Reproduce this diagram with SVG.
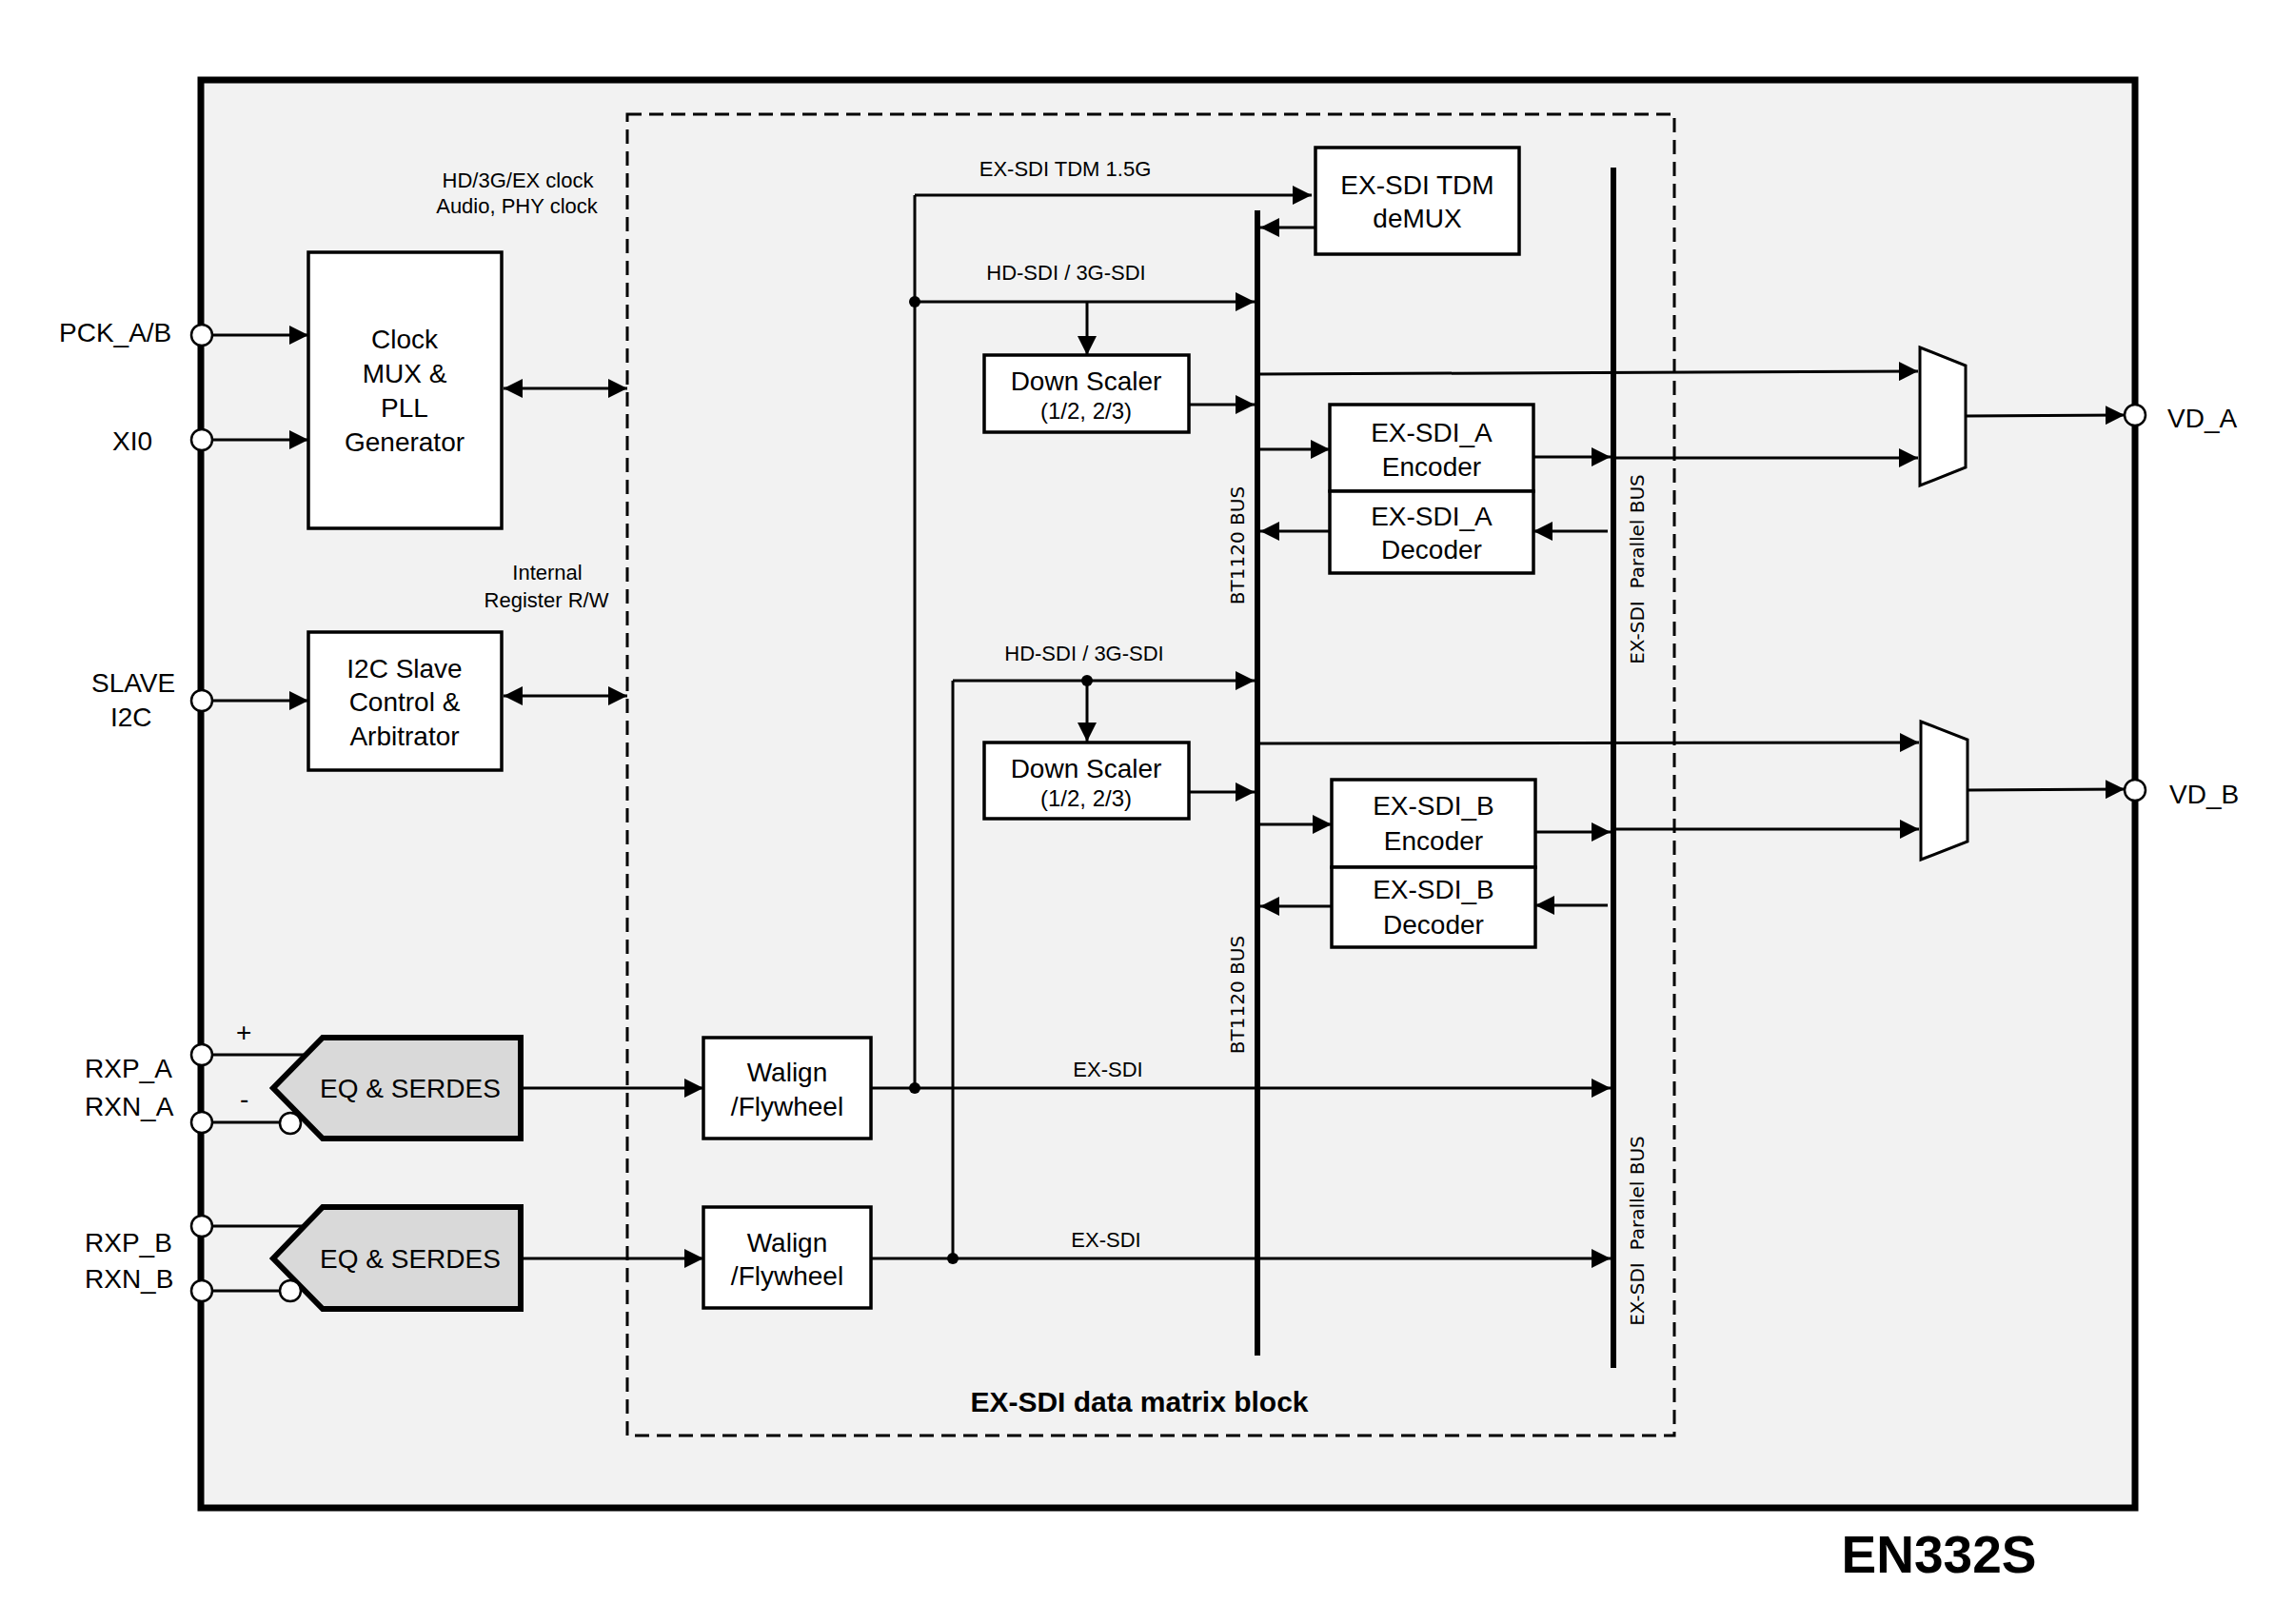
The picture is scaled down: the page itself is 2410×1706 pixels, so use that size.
<svg xmlns="http://www.w3.org/2000/svg" width="2410" height="1706" viewBox="0 0 2410 1706">
<style>
.t{font-family:"Liberation Sans",Arial,sans-serif;font-size:28px;fill:#000}
.c{text-anchor:middle}
.s{font-size:22px}
.m{font-size:24px}
.r{font-family:"DejaVu Sans",Verdana,sans-serif;font-size:20px;text-anchor:middle;fill:#000}
.b{font-weight:bold}
.box{fill:#fff;stroke:#000;stroke-width:3.5}
.ln{stroke:#000;stroke-width:3;fill:none}
.a{marker-end:url(#ah)}
.aa{marker-start:url(#ah);marker-end:url(#ah)}
.bus{stroke:#000;stroke-width:6;fill:none}
.pin{fill:#fff;stroke:#000;stroke-width:2.5}
.eq{fill:#d9d9d9;stroke:#000;stroke-width:6;stroke-linejoin:miter}
.mux{fill:#fff;stroke:#000;stroke-width:3}
</style>
<defs>
<marker id="ah" markerUnits="userSpaceOnUse" markerWidth="20" markerHeight="20" refX="20" refY="10" orient="auto-start-reverse" viewBox="0 0 20 20"><path d="M0,0L20,10L0,20z" fill="#000"/></marker>
</defs>

<rect id="chip" x="211" y="84" width="2032" height="1500" fill="#f2f2f2" stroke="#000" stroke-width="7"/>
<rect id="matrix-block" x="659" y="120" width="1100" height="1388" fill="none" stroke="#000" stroke-width="3" stroke-dasharray="15 8"/>
<text class="t b c" x="1197" y="1483" style="font-size:30px">EX-SDI data matrix block</text>
<text class="t b c" x="2037" y="1652" style="font-size:55px">EN332S</text>

<g id="connectors">
  <line class="ln a" x1="223" y1="352" x2="324" y2="352"/>
  <line class="ln a" x1="223" y1="462" x2="324" y2="462"/>
  <line class="ln a" x1="223" y1="736" x2="324" y2="736"/>
  <line class="ln aa" x1="529" y1="408" x2="659" y2="408"/>
  <line class="ln aa" x1="529" y1="731" x2="659" y2="731"/>
  <line class="ln" x1="222" y1="1108" x2="321" y2="1108"/>
  <line class="ln" x1="222" y1="1179" x2="294" y2="1179"/>
  <line class="ln" x1="222" y1="1288" x2="320" y2="1288"/>
  <line class="ln" x1="222" y1="1356" x2="294" y2="1356"/>
  <line class="ln a" x1="550" y1="1143" x2="739" y2="1143"/>
  <line class="ln a" x1="550" y1="1322" x2="739" y2="1322"/>
  <!-- trunk A -->
  <polyline class="ln" points="961,1143 961,205"/>
  <line class="ln a" x1="961" y1="205" x2="1378" y2="205"/>
  <line class="ln a" x1="961" y1="317" x2="1318" y2="317"/>
  <line class="ln a" x1="1142" y1="317" x2="1142" y2="373"/>
  <line class="ln a" x1="1249" y1="425" x2="1318" y2="425"/>
  <line class="ln a" x1="1382" y1="239" x2="1324" y2="239"/>
  <line class="ln a" x1="1324" y1="393" x2="2015" y2="390"/>
  <line class="ln a" x1="1324" y1="472" x2="1397" y2="472"/>
  <line class="ln a" x1="1397" y1="558" x2="1324" y2="558"/>
  <line class="ln a" x1="1611" y1="480" x2="1692" y2="480"/>
  <line class="ln a" x1="1698" y1="481" x2="2015" y2="481"/>
  <line class="ln a" x1="1689" y1="558" x2="1611" y2="558"/>
  <line class="ln a" x1="2065" y1="437" x2="2232" y2="436"/>
  <!-- trunk B -->
  <polyline class="ln" points="1001,1322 1001,715"/>
  <line class="ln a" x1="1001" y1="715" x2="1318" y2="715"/>
  <line class="ln a" x1="1142" y1="715" x2="1142" y2="779"/>
  <line class="ln a" x1="1249" y1="832" x2="1318" y2="832"/>
  <line class="ln a" x1="1324" y1="781" x2="2016" y2="780"/>
  <line class="ln a" x1="1324" y1="866" x2="1399" y2="866"/>
  <line class="ln a" x1="1399" y1="952" x2="1324" y2="952"/>
  <line class="ln a" x1="1613" y1="874" x2="1692" y2="874"/>
  <line class="ln a" x1="1698" y1="871" x2="2016" y2="871"/>
  <line class="ln a" x1="1689" y1="951" x2="1613" y2="951"/>
  <line class="ln a" x1="2067" y1="830" x2="2232" y2="829"/>
  <!-- EX-SDI lines -->
  <line class="ln a" x1="915" y1="1143" x2="1692" y2="1143"/>
  <line class="ln a" x1="915" y1="1322" x2="1692" y2="1322"/>
  <circle cx="961" cy="317" r="6"/>
  <circle cx="1142" cy="715" r="6"/>
  <circle cx="961" cy="1143" r="6"/>
  <circle cx="1001" cy="1322" r="6"/>
</g>

<g id="labels">
  <text class="t s c" x="544" y="197">HD/3G/EX clock</text>
  <text class="t s c" x="543" y="224">Audio, PHY clock</text>
  <text class="t s c" x="575" y="609">Internal</text>
  <text class="t s c" x="574" y="638">Register R/W</text>
  <text class="t s c" x="1119" y="185">EX-SDI TDM 1.5G</text>
  <text class="t s c" x="1120" y="294">HD-SDI / 3G-SDI</text>
  <text class="t s c" x="1139" y="694">HD-SDI / 3G-SDI</text>
  <text class="t s c" x="1164" y="1131">EX-SDI</text>
  <text class="t s c" x="1162" y="1310">EX-SDI</text>
  <text class="t" x="248" y="1094">+</text>
  <text class="t" x="252" y="1164">-</text>
</g>

<g id="bt1120-bus">
  <line class="bus" x1="1321" y1="221" x2="1321" y2="1424"/>
  <text class="r" transform="translate(1307,573) rotate(-90)">BT1120 BUS</text>
  <text class="r" transform="translate(1307,1045) rotate(-90)">BT1120 BUS</text>
</g>
<g id="parallel-bus">
  <line class="bus" x1="1695" y1="176" x2="1695" y2="1437"/>
  <text class="r" xml:space="preserve" transform="translate(1727,598) rotate(-90)">EX-SDI  Parallel BUS</text>
  <text class="r" xml:space="preserve" transform="translate(1727,1293) rotate(-90)">EX-SDI  Parallel BUS</text>
</g>

<g id="clock-mux">
  <rect class="box" x="324" y="265" width="203" height="290"/>
  <text class="t c" x="425" y="366">Clock</text>
  <text class="t c" x="425" y="402">MUX &amp;</text>
  <text class="t c" x="425" y="438">PLL</text>
  <text class="t c" x="425" y="474">Generator</text>
</g>
<g id="i2c-slave">
  <rect class="box" x="324" y="664" width="203" height="145"/>
  <text class="t c" x="425" y="712">I2C Slave</text>
  <text class="t c" x="425" y="747">Control &amp;</text>
  <text class="t c" x="425" y="783">Arbitrator</text>
</g>
<g id="eq-serdes-a">
  <polygon class="eq" points="339,1090 547,1090 547,1196 339,1196 287,1143"/>
  <circle class="pin" cx="305" cy="1180" r="11"/>
  <text class="t c" x="431" y="1153">EQ &amp; SERDES</text>
</g>
<g id="eq-serdes-b">
  <polygon class="eq" points="339,1268 547,1268 547,1375 339,1375 287,1322"/>
  <circle class="pin" cx="305" cy="1356" r="11"/>
  <text class="t c" x="431" y="1332">EQ &amp; SERDES</text>
</g>
<g id="walign-a">
  <rect class="box" x="739" y="1090" width="176" height="106"/>
  <text class="t c" x="827" y="1136">Walign</text>
  <text class="t c" x="827" y="1172">/Flywheel</text>
</g>
<g id="walign-b">
  <rect class="box" x="739" y="1268" width="176" height="106"/>
  <text class="t c" x="827" y="1315">Walign</text>
  <text class="t c" x="827" y="1350">/Flywheel</text>
</g>
<g id="demux">
  <rect class="box" x="1382" y="155" width="214" height="112"/>
  <text class="t c" x="1489" y="204">EX-SDI TDM</text>
  <text class="t c" x="1489" y="239">deMUX</text>
</g>
<g id="down-scaler-a">
  <rect class="box" x="1034" y="373" width="215" height="81"/>
  <text class="t c" x="1141" y="410">Down Scaler</text>
  <text class="t m c" x="1141" y="440">(1/2, 2/3)</text>
</g>
<g id="down-scaler-b">
  <rect class="box" x="1034" y="780" width="215" height="80"/>
  <text class="t c" x="1141" y="817">Down Scaler</text>
  <text class="t m c" x="1141" y="847">(1/2, 2/3)</text>
</g>
<g id="encoder-a">
  <rect class="box" x="1397" y="425" width="214" height="91"/>
  <text class="t c" x="1504" y="464">EX-SDI_A</text>
  <text class="t c" x="1504" y="500">Encoder</text>
</g>
<g id="decoder-a">
  <rect class="box" x="1397" y="516" width="214" height="86"/>
  <text class="t c" x="1504" y="552">EX-SDI_A</text>
  <text class="t c" x="1504" y="587">Decoder</text>
</g>
<g id="encoder-b">
  <rect class="box" x="1399" y="819" width="214" height="92"/>
  <text class="t c" x="1506" y="856">EX-SDI_B</text>
  <text class="t c" x="1506" y="893">Encoder</text>
</g>
<g id="decoder-b">
  <rect class="box" x="1399" y="911" width="214" height="84"/>
  <text class="t c" x="1506" y="944">EX-SDI_B</text>
  <text class="t c" x="1506" y="981">Decoder</text>
</g>
<g id="mux-a">
  <polygon class="mux" points="2017,365 2065,384 2065,491 2017,510"/>
</g>
<g id="mux-b">
  <polygon class="mux" points="2018,758 2067,777 2067,884 2018,903"/>
</g>

<g id="pins">
  <circle class="pin" cx="212" cy="352" r="11"/>
  <text class="t" x="62" y="359">PCK_A/B</text>
  <circle class="pin" cx="212" cy="462" r="11"/>
  <text class="t" x="118" y="473">XI0</text>
  <circle class="pin" cx="212" cy="736" r="11"/>
  <text class="t" x="96" y="727">SLAVE</text>
  <text class="t" x="116" y="763">I2C</text>
  <circle class="pin" cx="212" cy="1108" r="11"/>
  <text class="t" x="89" y="1132">RXP_A</text>
  <circle class="pin" cx="212" cy="1179" r="11"/>
  <text class="t" x="89" y="1172">RXN_A</text>
  <circle class="pin" cx="212" cy="1288" r="11"/>
  <text class="t" x="89" y="1315">RXP_B</text>
  <circle class="pin" cx="212" cy="1356" r="11"/>
  <text class="t" x="89" y="1353">RXN_B</text>
  <circle class="pin" cx="2243" cy="436" r="11"/>
  <text class="t" x="2277" y="449">VD_A</text>
  <circle class="pin" cx="2243" cy="830" r="11"/>
  <text class="t" x="2279" y="844">VD_B</text>
</g>
</svg>
